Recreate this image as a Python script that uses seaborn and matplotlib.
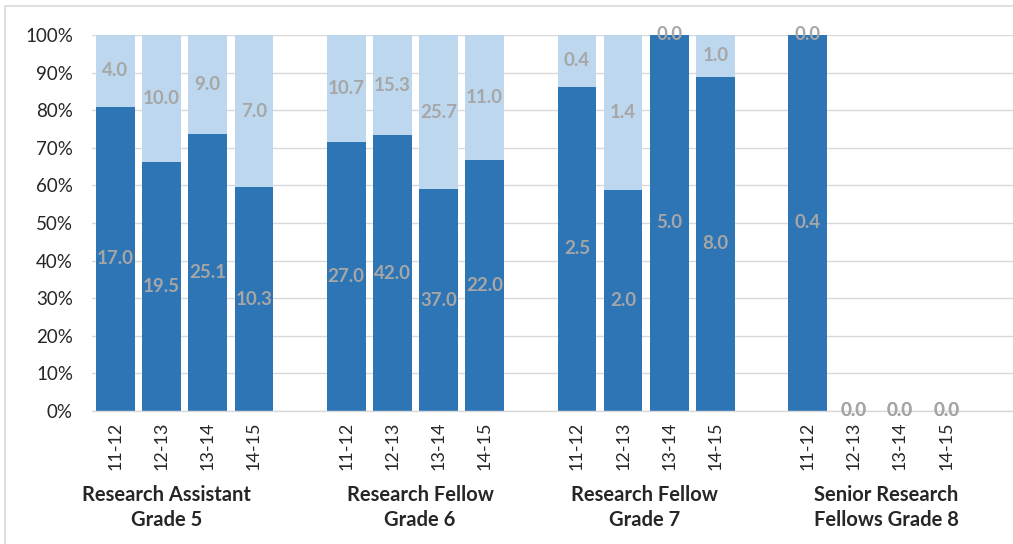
import matplotlib
matplotlib.use("Agg")
import matplotlib.pyplot as plt
import seaborn as sns
import pandas as pd
import numpy as np
from matplotlib.patches import Rectangle

# ---- data ----
groups = ["Research Assistant\nGrade 5", "Research Fellow\nGrade 6",
          "Research Fellow\nGrade 7", "Senior Research\nFellows Grade 8"]
years = ["11-12", "12-13", "13-14", "14-15"]
dark_vals = [[17.0, 19.5, 25.1, 10.3],
             [27.0, 42.0, 37.0, 22.0],
             [2.5, 2.0, 5.0, 8.0],
             [0.4, 0.0, 0.0, 0.0]]
light_vals = [[4.0, 10.0, 9.0, 7.0],
              [10.7, 15.3, 25.7, 11.0],
              [0.4, 1.4, 0.0, 1.0],
              [0.0, 0.0, 0.0, 0.0]]

DARK = "#2E75B6"
LIGHT = "#BDD7EE"
LABEL = "#A6A6A6"

sns.set_style("white")
plt.rcParams["font.family"] = ["Lato", "DejaVu Sans"]

rows = []
for gi, g in enumerate(groups):
    for yi, yr in enumerate(years):
        d = dark_vals[gi][yi]
        l = light_vals[gi][yi]
        tot = d + l
        dp = d / tot * 100 if tot > 0 else 0.0
        lp = l / tot * 100 if tot > 0 else 0.0
        rows.append(dict(group=g, year=yr, slot=gi * 5 + yi, dark=d, light=l,
                         dark_pct=dp, total_pct=dp + lp))
df = pd.DataFrame(rows)

fig = plt.figure(figsize=(10.13, 5.44), dpi=100)
ax = fig.add_axes([92.4 / 1013, (544 - 411) / 544, 1 - 92.4 / 1013, (411 - 35) / 544])

sns.barplot(data=df, x="slot", y="total_pct", native_scale=True, color=LIGHT,
            width=0.84, saturation=1, errorbar=None, ax=ax, linewidth=0)
sns.barplot(data=df, x="slot", y="dark_pct", native_scale=True, color=DARK,
            width=0.84, saturation=1, errorbar=None, ax=ax, linewidth=0)

# data labels
for _, r in df.iterrows():
    ax.text(r.slot, r.dark_pct / 2, f"{r.dark:.1f}", ha="center", va="center",
            color=LABEL, fontsize=13.5, fontweight="bold", clip_on=False, zorder=5)
    ax.text(r.slot, (r.dark_pct + r.total_pct) / 2, f"{r.light:.1f}", ha="center",
            va="center", color=LABEL, fontsize=13.5, fontweight="bold", clip_on=False, zorder=5)

ax.set_xlim(-0.5, 19.45)
ax.set_ylim(0, 100)
ax.set_yticks(np.arange(0, 101, 10))
ax.set_yticklabels([f"{v}%" for v in range(0, 101, 10)], fontsize=13.5)
ax.set_xticks(df["slot"])
ax.set_xticklabels(df["year"], rotation=90, fontsize=13)
ax.tick_params(axis="both", length=0)
ax.tick_params(axis="y", pad=14)
ax.tick_params(axis="x", pad=7.5)
ax.set_xlabel("")
ax.set_ylabel("")
ax.yaxis.grid(True, color="#D9D9D9", linewidth=1)
ax.set_axisbelow(True)
for s in ["top", "right", "left"]:
    ax.spines[s].set_visible(False)
ax.spines["bottom"].set_color("#D9D9D9")
ax.spines["bottom"].set_linewidth(1)

# group labels
group_x = [1.1, 6.6, 11.47, 16.7]
for gx, g in zip(group_x, groups):
    ax.text(gx, -0.257, g, transform=ax.get_xaxis_transform(), ha="center", va="center",
            fontsize=14.5, fontweight="bold", linespacing=1.3)

# chart border
fig.patches.append(Rectangle((5 / 1013, -0.05), 1.2, (544 - 6) / 544 + 0.05,
                             transform=fig.transFigure, fill=False,
                             edgecolor="#D9D9D9", linewidth=1.2))

fig.savefig("out.png", dpi=100)
